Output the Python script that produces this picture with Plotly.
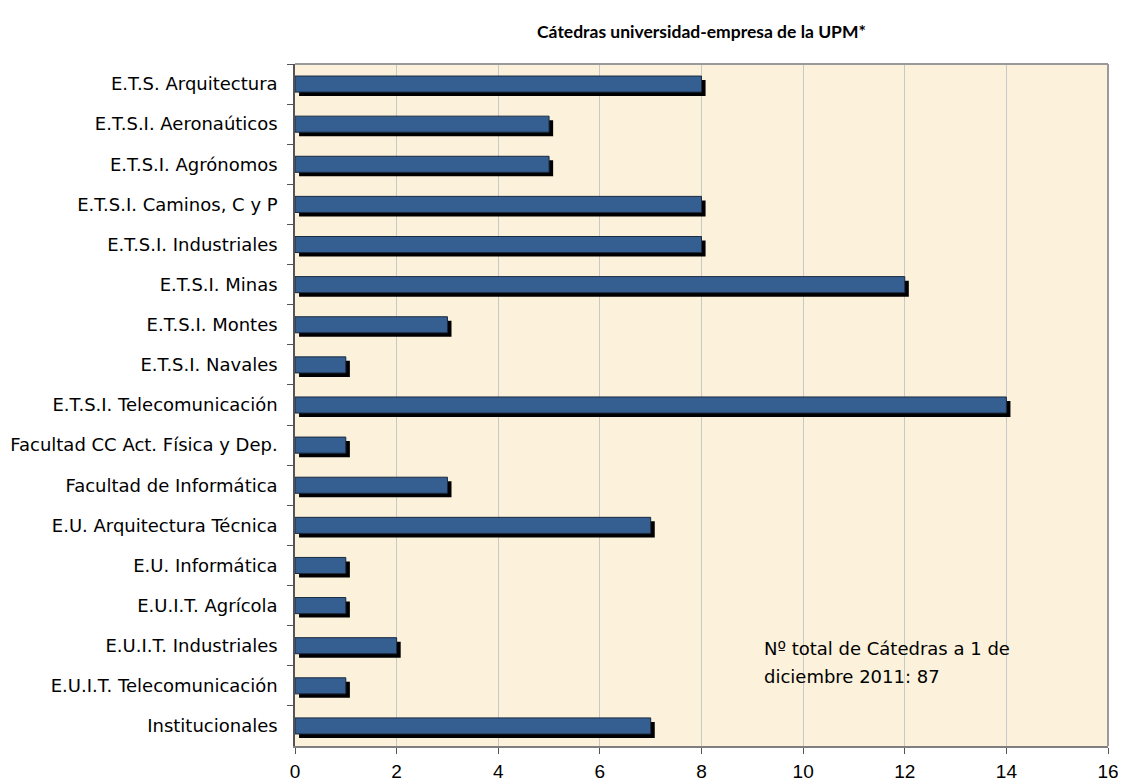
import plotly.graph_objects as go

categories = [
    "E.T.S. Arquitectura", "E.T.S.I. Aeronaúticos", "E.T.S.I. Agrónomos",
    "E.T.S.I. Caminos, C y P", "E.T.S.I. Industriales", "E.T.S.I. Minas",
    "E.T.S.I. Montes", "E.T.S.I. Navales", "E.T.S.I. Telecomunicación",
    "Facultad CC Act. Física y Dep.", "Facultad de Informática",
    "E.U. Arquitectura Técnica", "E.U. Informática", "E.U.I.T. Agrícola",
    "E.U.I.T. Industriales", "E.U.I.T. Telecomunicación", "Institucionales",
]
values = [8, 5, 5, 8, 8, 12, 3, 1, 14, 1, 3, 7, 1, 1, 2, 1, 7]
x_ticks = [0, 2, 4, 6, 8, 10, 12, 14, 16]
note_lines = ["Nº total de Cátedras a 1 de", "diciembre 2011: 87"]

FONT = "'DejaVu Sans', sans-serif"
TITLE_FONT = "Lato, 'Open Sans', sans-serif"
TICK_FONT = "'Liberation Sans', Arial, sans-serif"

# page has an 8px body margin: figure is placed at (8, 8)
OFF = 8
W, H = 1126 - OFF, 784 - OFF
L, R, T, B = 295 - OFF, 1108 - OFF, 64 - OFF, 746 - OFF

fig = go.Figure()
# shadow
fig.add_trace(go.Bar(
    y=categories, x=values, orientation="h", base=0.08,
    width=0.4, offset=-0.1, marker=dict(color="black", line=dict(width=0)),
    hoverinfo="skip", showlegend=False,
))
# main bars
fig.add_trace(go.Bar(
    y=categories, x=values, orientation="h",
    width=0.4, offset=-0.2,
    marker=dict(color="#365f91", line=dict(color="#1a2a40", width=1)),
    showlegend=False,
))

annotations = []
for line, yc in zip(note_lines, [648, 676]):
    annotations.append(dict(
        text=line, xref="x", yref="paper", x=9.19,
        y=1 - (yc - OFF - T) / (B - T),
        xanchor="left", yanchor="middle", align="left", showarrow=False,
        font=dict(size=18, family=FONT),
    ))

fig.update_layout(
    width=W, height=H,
    barmode="overlay",
    paper_bgcolor="white", plot_bgcolor="#fcf1da",
    margin=dict(l=L, r=W - R, t=T, b=H - B, autoexpand=False),
    font=dict(family=FONT, color="black"),
    title=dict(text="<b>Cátedras universidad-empresa de la UPM*</b>",
               x=((L + R) / 2) / W, xanchor="center",
               yref="container", y=1 - (32 - OFF) / H, yanchor="middle",
               font=dict(size=17.5, family=TITLE_FONT)),
    annotations=annotations,
)
fig.update_xaxes(
    range=[0, 16], tickvals=x_ticks, ticktext=[str(t) for t in x_ticks],
    showgrid=True, gridcolor="#c8c8c8", gridwidth=1,
    showline=True, linecolor="#7f7f7f", linewidth=1.5, mirror=False,
    ticks="outside", ticklen=6, tickcolor="#555555", ticklabelstandoff=1,
    tickfont=dict(size=19, family=TICK_FONT), zeroline=False, automargin=False,
)
fig.update_yaxes(
    autorange="reversed", type="category", tickson="boundaries",
    showgrid=False, showline=True, linecolor="#555555", linewidth=1.5,
    ticks="outside", ticklen=6, tickcolor="#555555", ticklabelstandoff=12,
    tickfont=dict(size=18, family=FONT), automargin=False,
)
# top and right frame
fig.add_shape(type="line", xref="paper", yref="paper", x0=0, x1=1, y0=1, y1=1,
              line=dict(color="#9a9a9a", width=2))
fig.add_shape(type="line", xref="paper", yref="paper", x0=1, x1=1, y0=0, y1=1,
              line=dict(color="#9a9a9a", width=2))

fig.write_html("out.html")
